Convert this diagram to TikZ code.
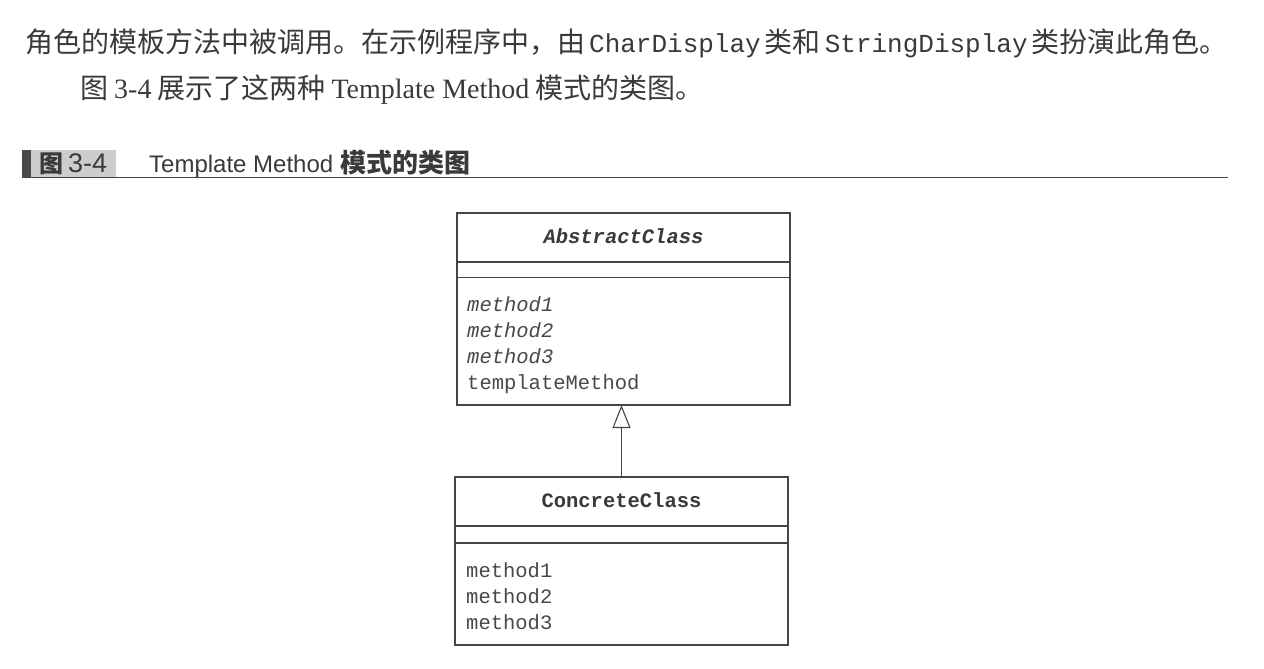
\documentclass[tikz,border=0pt]{standalone}
\usepackage{fontspec}
\setmainfont{Liberation Serif}
\newfontfamily\cjk{Noto Sans CJK SC}
\newfontfamily\monof{Liberation Mono}
\newfontfamily\hsans{Liberation Sans}
\usetikzlibrary{arrows.meta,calc}
\definecolor{ink}{HTML}{3A3A3A}
\definecolor{memberink}{HTML}{484848}
\definecolor{lineclr}{HTML}{454545}
\definecolor{hdrgray}{HTML}{CDCDCD}
\definecolor{hdrbar}{HTML}{4A4A4A}
\tikzset{
  bodytext/.style={anchor=base west, inner sep=0pt, text=ink, font=\fontsize{28}{28}\selectfont},
  classbox/.style={draw=lineclr, line width=1.2pt, inner sep=0pt, outer sep=0pt, fill=white},
  divider/.style={draw=lineclr, line width=1.1pt},
  classname/.style={anchor=base, inner sep=0pt, text=ink, font=\monof\bfseries\fontsize{20.5}{20.5}\selectfont},
  member/.style={anchor=base west, inner sep=0pt, text=memberink, font=\monof\fontsize{20.5}{20.5}\selectfont},
  inherit/.style={draw=lineclr, line width=1.1pt, -{Triangle[open, length=23pt, width=18pt, line width=1.1pt]}},
  hdrtext/.style={anchor=base west, inner sep=0pt, text=ink}
}
\newcommand{\mt}[1]{{\monof\fontsize{26}{26}\selectfont #1}}
\begin{document}
\begin{tikzpicture}[x=1pt,y=-1pt]
\useasboundingbox[fill=white] (0,0) rectangle (1264,669);

% body text
\node[bodytext] (l1) at (25,53) {\cjk 角色的模板方法中被调用。在示例程序中，由\hspace{4pt}\mt{CharDisplay}\hspace{4pt}类和\hspace{4pt}\mt{StringDisplay}\hspace{4pt}类扮演此角色。};
\node[bodytext] (l2) at (80,99) {{\cjk 图}\hspace{6pt}3-4\hspace{6pt}{\cjk 展示了这两种}\hspace{6pt}Template Method\hspace{6pt}{\cjk 模式的类图。}};

% heading
\fill[hdrbar] (22,150) rectangle (31,177);
\fill[hdrgray] (31,150) rectangle (116,177);
\node[hdrtext, font=\fontsize{24}{24}\selectfont] (hnum) at (39,172) {{\cjk\bfseries 图}\hspace{5pt}{\hsans\fontsize{27}{27}\selectfont 3-4}};
\node[hdrtext, font=\fontsize{24}{24}\selectfont] (htitle) at (149,172) {{\hsans Template Method}\hspace{7pt}{\cjk\bfseries\fontsize{26}{26}\selectfont 模式的类图}};
\draw[draw=lineclr, line width=1.3pt] (22,177.5) -- (1228,177.5);

% AbstractClass
\node[classbox, minimum width=333pt, minimum height=192pt] (abs) at (623.5,309) {};
\draw[divider] ($(abs.north west)+(0,49)$) -- ($(abs.north east)+(0,49)$);
\draw[divider] ($(abs.north west)+(0,64.5)$) -- ($(abs.north east)+(0,64.5)$);
\node[classname] (absname) at (623.5,243.5) {\itshape AbstractClass};
\node[member] (am1) at (467,311) {\itshape method1};
\node[member] (am2) at (467,337) {\itshape method2};
\node[member] (am3) at (467,363) {\itshape method3};
\node[member] (am4) at (467,389) {templateMethod};

% ConcreteClass
\node[classbox, minimum width=333pt, minimum height=168pt] (conc) at (621.5,561) {};
\draw[divider] ($(conc.north west)+(0,49)$) -- ($(conc.north east)+(0,49)$);
\draw[divider] ($(conc.north west)+(0,66)$) -- ($(conc.north east)+(0,66)$);
\node[classname] (concname) at (621.5,507.5) {ConcreteClass};
\node[member] (cm1) at (466,577) {method1};
\node[member] (cm2) at (466,603) {method2};
\node[member] (cm3) at (466,629) {method3};

% generalization
\draw[inherit] (conc.north) -- (conc.north |- abs.south);
\end{tikzpicture}
\end{document}
